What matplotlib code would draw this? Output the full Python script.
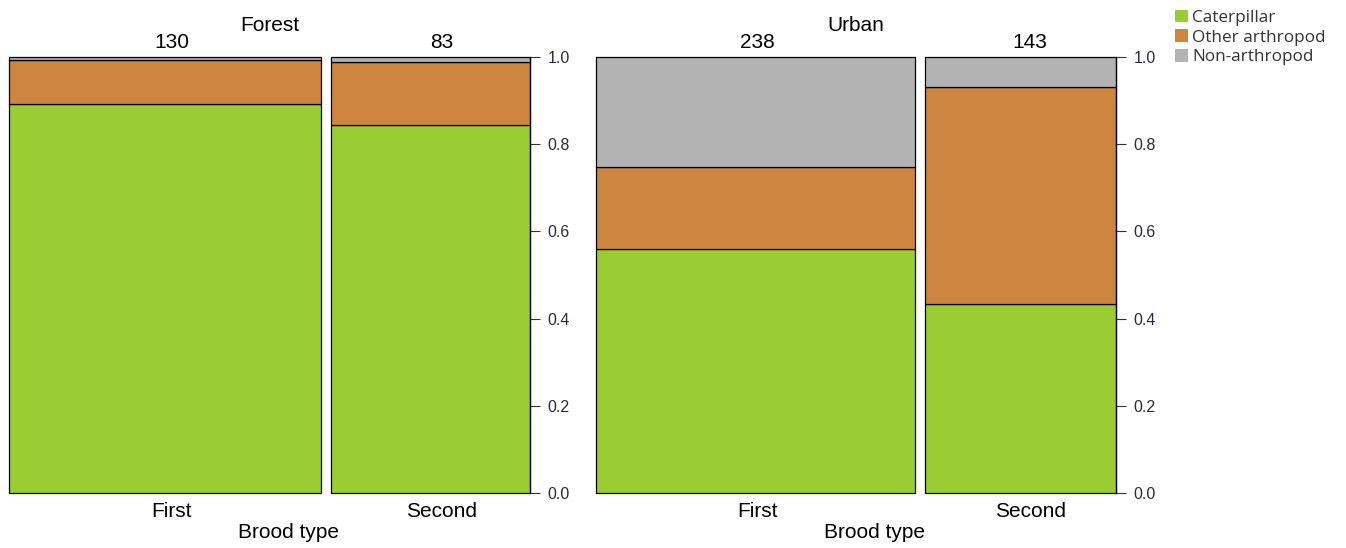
import matplotlib
matplotlib.use("Agg")
import matplotlib.pyplot as plt
from matplotlib.patches import Patch
import numpy as np

sites = ["Forest", "Urban"]
brood_types = ["First", "Second"]
categories = ["Caterpillar", "Other arthropod", "Non-arthropod"]
colors = ["#9ACD32", "#CD853F", "#B3B3B3"]

# counts per site, per brood type: [caterpillar, other arthropod, non-arthropod]
forest_counts = [[116, 13, 1], [70, 12, 1]]
urban_counts = [[133, 45, 60], [62, 71, 10]]
site_counts = [forest_counts, urban_counts]

W, H = 1346, 548
fig = plt.figure(figsize=(W / 100, H / 100), dpi=100)

panel_px = [(9, 530), (596, 1116)]
top_px, bot_px = 57, 493
gap_px = 10
# horizontal nudges (px) of the bar labels, as in the reference rendering
label_nudge_px = [[7, 11], [2.5, 10]]
xlabel_nudge_px = 19

label_font = "Liberation Sans"


def ay(ypx):
    return (bot_px - ypx) / (bot_px - top_px)


for si, (site, counts) in enumerate(zip(sites, site_counts)):
    x0, x1 = panel_px[si]
    ax = fig.add_axes([x0 / W, 1 - bot_px / H, (x1 - x0) / W, (bot_px - top_px) / H])
    wpx = x1 - x0
    gap = gap_px / wpx
    totals = [sum(c) for c in counts]
    grand = sum(totals)
    avail = 1 - gap * (len(counts) - 1)
    left = 0.0
    for bi, c in enumerate(counts):
        w = avail * totals[bi] / grand
        props = np.array(c) / totals[bi]
        bottom = 0.0
        for k, p in enumerate(props):
            ax.bar(left, p, width=w, bottom=bottom, align="edge", color=colors[k],
                   edgecolor="black", linewidth=0.9, clip_on=False)
            bottom += p
        cx = left + w / 2 + label_nudge_px[si][bi] / wpx
        ax.text(cx, ay(48), str(totals[bi]), ha="center", va="baseline", fontsize=15,
                family=label_font)
        ax.text(cx, ay(517), brood_types[bi], ha="center", va="baseline", fontsize=15,
                family=label_font)
        left += w + gap
    ax.set_xlim(0, 1)
    ax.set_ylim(0, 1)
    for s in ["top", "left", "bottom"]:
        ax.spines[s].set_visible(False)
    ax.spines["right"].set_linewidth(0.9)
    ax.set_xticks([])
    ax.yaxis.tick_right()
    ticks = np.arange(0, 1.01, 0.2)
    ax.set_yticks(ticks)
    ax.set_yticklabels([f"{v:.1f}" for v in ticks])
    ax.tick_params(axis="y", length=7.5, width=0.8, color="#333333", labelsize=11.5,
                   labelcolor="#2b2b3b", pad=5)
    for lab in ax.get_yticklabels():
        lab.set_family(label_font)
    ax.text(0.5, ay(31), site, ha="center", va="baseline", fontsize=15,
            family=label_font, transform=ax.transAxes)
    ax.text((0.5 * wpx + xlabel_nudge_px) / wpx, ay(538), "Brood type", ha="center",
            va="baseline", fontsize=15, family=label_font, transform=ax.transAxes)

handles = [Patch(facecolor=c, edgecolor="none") for c in colors]
leg = fig.legend(handles, categories, loc="upper left",
                 bbox_to_anchor=(1168 / W, 1 - 3 / H), frameon=False,
                 handlelength=0.75, handleheight=0.75, handletextpad=0.25,
                 labelspacing=0.2, borderaxespad=0,
                 prop={"family": "Open Sans", "size": 12.3})
for t in leg.get_texts():
    t.set_color("#333333")

fig.savefig("out.png", dpi=100)
